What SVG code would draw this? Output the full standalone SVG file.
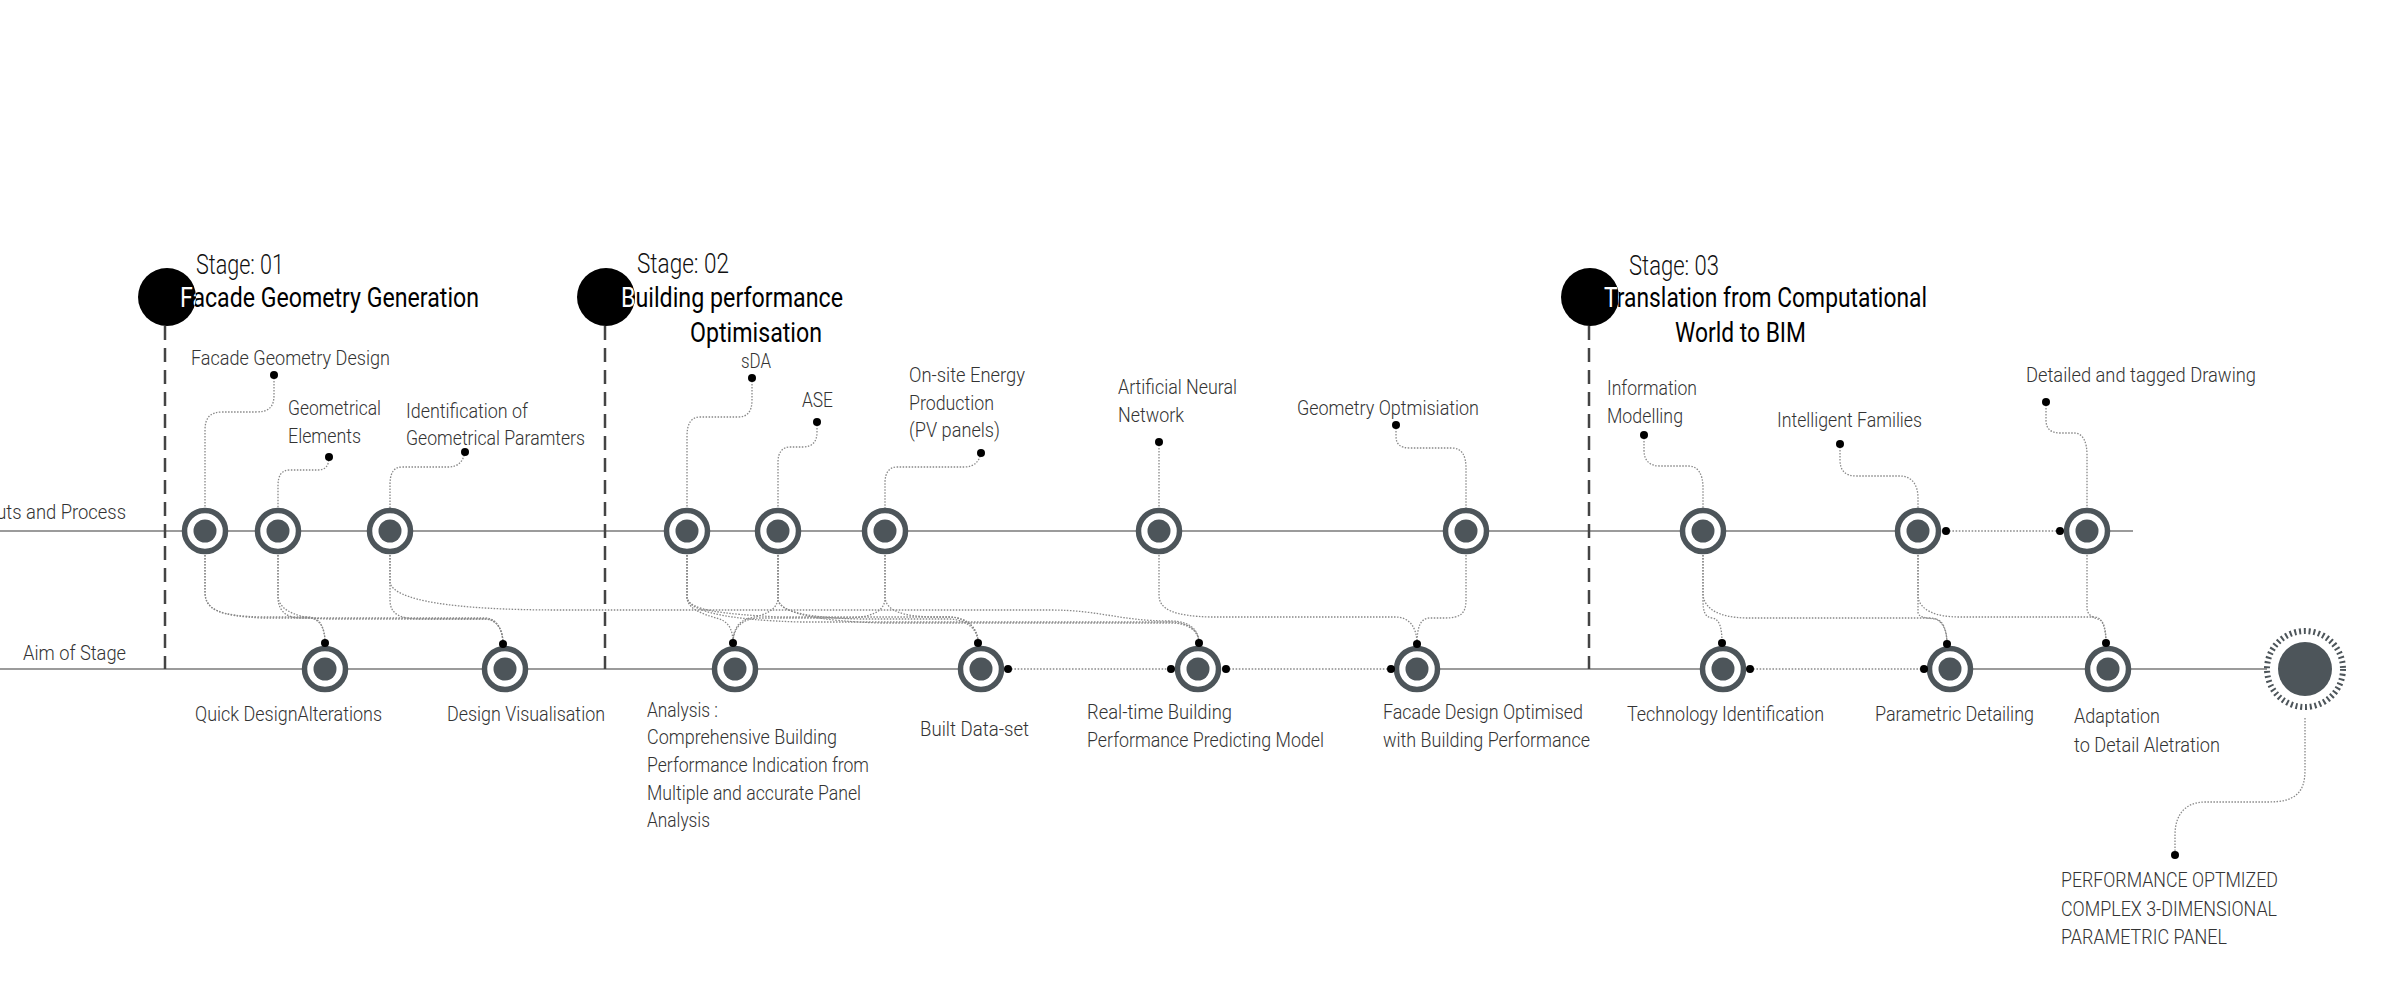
<svg xmlns="http://www.w3.org/2000/svg" width="2400" height="993" viewBox="0 0 2400 993">
<style>
.base{stroke:#9b9b9b;stroke-width:2;fill:none}
.dl{stroke:#8c8c8c;stroke-width:1.6;stroke-dasharray:1.6 1.6;fill:none}
.c{fill:none;stroke:#888;stroke-width:1.3;stroke-dasharray:1.5 1.5}
.sd{stroke:#444;stroke-width:2.5;stroke-dasharray:14 8;fill:none}
.ring{fill:#fff;stroke:#4d555a;stroke-width:5.5}
.core{fill:#4d555a}
.dot{fill:#000}
.sc{fill:#000}
text{font-family:Roboto,"Liberation Sans",sans-serif}
.lbl{font-weight:300;font-size:21px;fill:#333}
.stg{font-weight:300;font-size:27px;fill:#111}
.ttl{font-weight:400;font-size:27px;fill:#000}
.w{fill:#fff}
</style>
<defs>
<clipPath id="cp1"><circle cx="167" cy="297" r="29"/></clipPath>
<clipPath id="cp2"><circle cx="606" cy="297" r="29"/></clipPath>
<clipPath id="cp3"><circle cx="1590" cy="297" r="29"/></clipPath>
</defs>
<rect width="2400" height="993" fill="#fff"/>

<!-- base lines -->
<g id="baselines">
<path class="base" d="M0,531 H1918"/>
<path class="dl" d="M1946,531 H2060"/>
<path class="base" d="M2087,531 H2133"/>
<path class="base" d="M0,669 H981"/>
<path class="dl" d="M1008,669 H1171"/>
<path class="dl" d="M1226,669 H1391"/>
<path class="base" d="M1416,669 H1723"/>
<path class="dl" d="M1750,669 H1924"/>
<path class="base" d="M1951,669 H2267"/>
<text class="lbl" x="-29" y="519" textLength="155" lengthAdjust="spacingAndGlyphs">Inputs and Process</text>
<text class="lbl" x="23" y="660" textLength="103" lengthAdjust="spacingAndGlyphs">Aim of Stage</text>
</g>

<!-- stage headers -->
<g id="stage-01">
<path class="sd" d="M165,326 V669"/>
<circle class="sc" cx="167" cy="297" r="29"/>
<text class="stg" x="196" y="274" textLength="88" lengthAdjust="spacingAndGlyphs">Stage: 01</text>
<text class="ttl" x="180" y="307" textLength="299" lengthAdjust="spacingAndGlyphs">Facade Geometry Generation</text>
<text class="ttl w" x="180" y="307" textLength="299" lengthAdjust="spacingAndGlyphs" clip-path="url(#cp1)">Facade Geometry Generation</text>
</g>
<g id="stage-02">
<path class="sd" d="M605,326 V669"/>
<circle class="sc" cx="606" cy="297" r="29"/>
<text class="stg" x="637" y="273" textLength="92" lengthAdjust="spacingAndGlyphs">Stage: 02</text>
<text class="ttl" x="621" y="307" textLength="222" lengthAdjust="spacingAndGlyphs">Building performance</text>
<text class="ttl w" x="621" y="307" textLength="222" lengthAdjust="spacingAndGlyphs" clip-path="url(#cp2)">Building performance</text>
<text class="ttl" x="690" y="342" textLength="132" lengthAdjust="spacingAndGlyphs">Optimisation</text>
</g>
<g id="stage-03">
<path class="sd" d="M1589,326 V669"/>
<circle class="sc" cx="1590" cy="297" r="29"/>
<text class="stg" x="1629" y="275" textLength="90" lengthAdjust="spacingAndGlyphs">Stage: 03</text>
<text class="ttl" x="1604" y="307" textLength="323" lengthAdjust="spacingAndGlyphs">Translation from Computational</text>
<text class="ttl w" x="1604" y="307" textLength="323" lengthAdjust="spacingAndGlyphs" clip-path="url(#cp3)">Translation from Computational</text>
<text class="ttl" x="1675" y="342" textLength="131" lengthAdjust="spacingAndGlyphs">World to BIM</text>
</g>

<!-- connectors -->
<g id="connectors">
<path class="c" d="M274,375 V395 C274,408 268,412 255,412 H222 C210,412 205,418 205,430 V508"/>
<path class="c" d="M329,457 C329,466 325,470 318,470 H290 C281,470 278,476 278,486 V508"/>
<path class="c" d="M465,452 C463,462 458,467 448,467 H402 C393,467 390,474 390,485 V508"/>
<path class="c" d="M752,378 V400 C752,412 747,417 738,417 H700 C691,417 687,424 687,436 V508"/>
<path class="c" d="M817,422 V432 C817,442 812,447 803,447 H790 C782,447 778,453 778,462 V508"/>
<path class="c" d="M981,453 C979,462 974,467 964,467 H897 C889,467 885,473 885,483 V508"/>
<path class="c" d="M1159,442 V508"/>
<path class="c" d="M1396,425 V436 C1396,444 1400,448 1410,448 H1452 C1462,448 1466,456 1466,468 V508"/>
<path class="c" d="M1644,435 V450 C1644,461 1650,466 1660,466 H1688 C1698,466 1703,474 1703,488 V508"/>
<path class="c" d="M1840,444 V460 C1840,471 1846,476 1856,476 H1900 C1912,476 1918,485 1918,498 V508"/>
<path class="c" d="M2046,402 V420 C2046,429 2051,433 2060,433 H2074 C2083,433 2087,442 2087,455 V508"/>
<path class="c" d="M2305,718 V770 C2305,793 2295,802 2268,802 H2205 C2185,802 2175,815 2175,835 V855"/>
<path class="c" d="M205,555 V592 C205,610 220,616 262,617 H308 C320,617 325,628 325,643"/>
<path class="c" d="M205,555 V592 C205,610 220,616 262,618 H485 C497,618 503,630 503,644"/>
<path class="c" d="M278,555 V597 C278,612 288,618 300,618 H308 C320,618 325,628 325,643"/>
<path class="c" d="M278,555 V597 C280,612 300,619 330,619 H485 C497,619 503,630 503,644"/>
<path class="c" d="M390,555 V600 C390,614 400,619 420,619 H485 C497,619 503,630 503,644"/>
<path class="c" d="M390,555 V583 C395,600 450,610 560,610 H1050 C1100,610 1120,621 1170,621 C1190,621 1199,630 1199,643"/>
<path class="c" d="M687,555 V597 C687,612 712,616 722,620 C730,624 733,632 733,643"/>
<path class="c" d="M778,555 V597 C778,610 765,615 750,618 C738,621 733,630 733,643"/>
<path class="c" d="M885,555 V598 C885,612 870,618 845,618 H760 C742,618 733,628 733,643"/>
<path class="c" d="M687,555 V598 C690,610 720,614 780,617 H950 C968,618 978,628 978,643"/>
<path class="c" d="M778,555 V600 C780,612 810,618 860,619 H950 C968,620 978,630 978,643"/>
<path class="c" d="M885,555 V598 C887,612 905,616 930,617 H950 C968,618 978,628 978,643"/>
<path class="c" d="M687,555 V598 C690,612 730,620 800,622 H1170 C1190,622 1199,632 1199,643"/>
<path class="c" d="M778,555 V600 C782,614 820,621 880,623 H1170 C1190,623 1199,632 1199,643"/>
<path class="c" d="M1159,555 V595 C1159,610 1175,616 1210,617 H1395 C1410,617 1417,628 1417,644"/>
<path class="c" d="M1466,555 V600 C1466,614 1460,618 1445,618 H1430 C1420,618 1417,628 1417,644"/>
<path class="c" d="M1703,555 V600 C1703,612 1705,617 1712,618 C1719,619 1722,626 1722,643"/>
<path class="c" d="M1703,555 V595 C1705,610 1720,617 1745,618 H1930 C1942,618 1947,630 1947,644"/>
<path class="c" d="M1918,555 V612 C1918,617 1925,618 1935,619 C1943,620 1947,630 1947,644"/>
<path class="c" d="M1918,555 V597 C1920,610 1935,617 1960,617 H2095 C2102,617 2106,628 2106,643"/>
<path class="c" d="M2087,555 V608 C2087,616 2095,618 2100,620 C2104,622 2106,630 2106,643"/>
</g>

<!-- input nodes (top line) -->
<g id="n-facade-geometry-design">
<circle class="ring" cx="205" cy="531" r="20.5"/><circle class="core" cx="205" cy="531" r="11.5"/>
<circle class="dot" cx="274" cy="375" r="4"/>
<text class="lbl" x="191" y="365" textLength="199" lengthAdjust="spacingAndGlyphs">Facade Geometry Design</text>
</g>
<g id="n-geometrical-elements">
<circle class="ring" cx="278" cy="531" r="20.5"/><circle class="core" cx="278" cy="531" r="11.5"/>
<circle class="dot" cx="329" cy="457" r="4"/>
<text class="lbl" x="288" y="415" textLength="93" lengthAdjust="spacingAndGlyphs">Geometrical</text>
<text class="lbl" x="288" y="443" textLength="73" lengthAdjust="spacingAndGlyphs">Elements</text>
</g>
<g id="n-identification">
<circle class="ring" cx="390" cy="531" r="20.5"/><circle class="core" cx="390" cy="531" r="11.5"/>
<circle class="dot" cx="465" cy="452" r="4"/>
<text class="lbl" x="406" y="418" textLength="122" lengthAdjust="spacingAndGlyphs">Identification of</text>
<text class="lbl" x="406" y="445" textLength="179" lengthAdjust="spacingAndGlyphs">Geometrical Paramters</text>
</g>
<g id="n-sda">
<circle class="ring" cx="687" cy="531" r="20.5"/><circle class="core" cx="687" cy="531" r="11.5"/>
<circle class="dot" cx="752" cy="378" r="4"/>
<text class="lbl" x="741" y="368" textLength="30" lengthAdjust="spacingAndGlyphs">sDA</text>
</g>
<g id="n-ase">
<circle class="ring" cx="778" cy="531" r="20.5"/><circle class="core" cx="778" cy="531" r="11.5"/>
<circle class="dot" cx="817" cy="422" r="4"/>
<text class="lbl" x="802" y="407" textLength="31" lengthAdjust="spacingAndGlyphs">ASE</text>
</g>
<g id="n-onsite-energy">
<circle class="ring" cx="885" cy="531" r="20.5"/><circle class="core" cx="885" cy="531" r="11.5"/>
<circle class="dot" cx="981" cy="453" r="4"/>
<text class="lbl" x="909" y="382" textLength="116" lengthAdjust="spacingAndGlyphs">On-site Energy</text>
<text class="lbl" x="909" y="410" textLength="85" lengthAdjust="spacingAndGlyphs">Production</text>
<text class="lbl" x="909" y="437" textLength="91" lengthAdjust="spacingAndGlyphs">(PV panels)</text>
</g>
<g id="n-ann">
<circle class="ring" cx="1159" cy="531" r="20.5"/><circle class="core" cx="1159" cy="531" r="11.5"/>
<circle class="dot" cx="1159" cy="442" r="4"/>
<text class="lbl" x="1118" y="394" textLength="119" lengthAdjust="spacingAndGlyphs">Artificial Neural</text>
<text class="lbl" x="1118" y="422" textLength="66" lengthAdjust="spacingAndGlyphs">Network</text>
</g>
<g id="n-geometry-optimisation">
<circle class="ring" cx="1466" cy="531" r="20.5"/><circle class="core" cx="1466" cy="531" r="11.5"/>
<circle class="dot" cx="1396" cy="425" r="4"/>
<text class="lbl" x="1297" y="415" textLength="182" lengthAdjust="spacingAndGlyphs">Geometry Optmisiation</text>
</g>
<g id="n-information-modelling">
<circle class="ring" cx="1703" cy="531" r="20.5"/><circle class="core" cx="1703" cy="531" r="11.5"/>
<circle class="dot" cx="1644" cy="435" r="4"/>
<text class="lbl" x="1607" y="395" textLength="90" lengthAdjust="spacingAndGlyphs">Information</text>
<text class="lbl" x="1607" y="423" textLength="76" lengthAdjust="spacingAndGlyphs">Modelling</text>
</g>
<g id="n-intelligent-families">
<circle class="ring" cx="1918" cy="531" r="20.5"/><circle class="core" cx="1918" cy="531" r="11.5"/>
<circle class="dot" cx="1840" cy="444" r="4"/>
<circle class="dot" cx="1946" cy="531" r="4"/>
<text class="lbl" x="1777" y="427" textLength="145" lengthAdjust="spacingAndGlyphs">Intelligent Families</text>
</g>
<g id="n-detailed-drawing">
<circle class="ring" cx="2087" cy="531" r="20.5"/><circle class="core" cx="2087" cy="531" r="11.5"/>
<circle class="dot" cx="2046" cy="402" r="4"/>
<circle class="dot" cx="2060" cy="531" r="4"/>
<text class="lbl" x="2026" y="382" textLength="230" lengthAdjust="spacingAndGlyphs">Detailed and tagged Drawing</text>
</g>

<!-- aim nodes (bottom line) -->
<g id="n-quick-design">
<circle class="ring" cx="325" cy="669" r="20.5"/><circle class="core" cx="325" cy="669" r="11.5"/>
<circle class="dot" cx="325" cy="643" r="4"/>
<text class="lbl" x="195" y="721" textLength="187" lengthAdjust="spacingAndGlyphs">Quick DesignAlterations</text>
</g>
<g id="n-design-visualisation">
<circle class="ring" cx="505" cy="669" r="20.5"/><circle class="core" cx="505" cy="669" r="11.5"/>
<circle class="dot" cx="503" cy="644" r="4"/>
<text class="lbl" x="447" y="721" textLength="158" lengthAdjust="spacingAndGlyphs">Design Visualisation</text>
</g>
<g id="n-analysis">
<circle class="ring" cx="735" cy="669" r="20.5"/><circle class="core" cx="735" cy="669" r="11.5"/>
<circle class="dot" cx="733" cy="643" r="4"/>
<text class="lbl" x="647" y="717" textLength="71" lengthAdjust="spacingAndGlyphs">Analysis :</text>
<text class="lbl" x="647" y="744" textLength="190" lengthAdjust="spacingAndGlyphs">Comprehensive Building</text>
<text class="lbl" x="647" y="772" textLength="222" lengthAdjust="spacingAndGlyphs">Performance Indication from</text>
<text class="lbl" x="647" y="800" textLength="214" lengthAdjust="spacingAndGlyphs">Multiple and accurate Panel</text>
<text class="lbl" x="647" y="827" textLength="63" lengthAdjust="spacingAndGlyphs">Analysis</text>
</g>
<g id="n-built-dataset">
<circle class="ring" cx="981" cy="669" r="20.5"/><circle class="core" cx="981" cy="669" r="11.5"/>
<circle class="dot" cx="978" cy="643" r="4"/>
<circle class="dot" cx="1008" cy="669" r="4"/>
<text class="lbl" x="920" y="736" textLength="109" lengthAdjust="spacingAndGlyphs">Built Data-set</text>
</g>
<g id="n-realtime-model">
<circle class="ring" cx="1198" cy="669" r="20.5"/><circle class="core" cx="1198" cy="669" r="11.5"/>
<circle class="dot" cx="1199" cy="643" r="4"/>
<circle class="dot" cx="1171" cy="669" r="4"/>
<circle class="dot" cx="1226" cy="669" r="4"/>
<text class="lbl" x="1087" y="719" textLength="145" lengthAdjust="spacingAndGlyphs">Real-time Building</text>
<text class="lbl" x="1087" y="747" textLength="237" lengthAdjust="spacingAndGlyphs">Performance Predicting Model</text>
</g>
<g id="n-facade-optimised">
<circle class="ring" cx="1417" cy="669" r="20.5"/><circle class="core" cx="1417" cy="669" r="11.5"/>
<circle class="dot" cx="1417" cy="644" r="4"/>
<circle class="dot" cx="1391" cy="669" r="4"/>
<text class="lbl" x="1383" y="719" textLength="200" lengthAdjust="spacingAndGlyphs">Facade Design Optimised</text>
<text class="lbl" x="1383" y="747" textLength="207" lengthAdjust="spacingAndGlyphs">with Building Performance</text>
</g>
<g id="n-technology-identification">
<circle class="ring" cx="1723" cy="669" r="20.5"/><circle class="core" cx="1723" cy="669" r="11.5"/>
<circle class="dot" cx="1722" cy="643" r="4"/>
<circle class="dot" cx="1750" cy="669" r="4"/>
<text class="lbl" x="1627" y="721" textLength="197" lengthAdjust="spacingAndGlyphs">Technology Identification</text>
</g>
<g id="n-parametric-detailing">
<circle class="ring" cx="1950" cy="669" r="20.5"/><circle class="core" cx="1950" cy="669" r="11.5"/>
<circle class="dot" cx="1947" cy="644" r="4"/>
<circle class="dot" cx="1924" cy="669" r="4"/>
<text class="lbl" x="1875" y="721" textLength="159" lengthAdjust="spacingAndGlyphs">Parametric Detailing</text>
</g>
<g id="n-adaptation">
<circle class="ring" cx="2108" cy="669" r="20.5"/><circle class="core" cx="2108" cy="669" r="11.5"/>
<circle class="dot" cx="2106" cy="643" r="4"/>
<text class="lbl" x="2074" y="723" textLength="86" lengthAdjust="spacingAndGlyphs">Adaptation</text>
<text class="lbl" x="2074" y="752" textLength="146" lengthAdjust="spacingAndGlyphs">to Detail Aletration</text>
</g>
<g id="n-final-panel">
<circle cx="2305" cy="669" r="38" fill="#fff" stroke="#4d555a" stroke-width="6" stroke-dasharray="2 2.8"/>
<circle class="core" cx="2305" cy="669" r="27"/>
<circle class="dot" cx="2175" cy="855" r="4"/>
<text class="lbl" x="2061" y="887" textLength="217" lengthAdjust="spacingAndGlyphs">PERFORMANCE OPTMIZED</text>
<text class="lbl" x="2061" y="916" textLength="216" lengthAdjust="spacingAndGlyphs">COMPLEX 3-DIMENSIONAL</text>
<text class="lbl" x="2061" y="944" textLength="166" lengthAdjust="spacingAndGlyphs">PARAMETRIC PANEL</text>
</g>
</svg>
